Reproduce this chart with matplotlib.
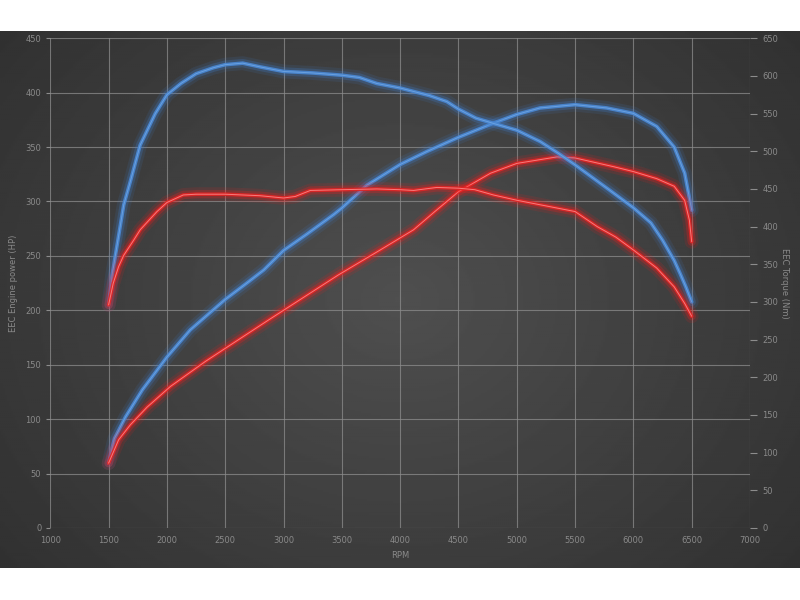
import numpy as np
import matplotlib
matplotlib.use("Agg")
import matplotlib.pyplot as plt

# tuned (blue) torque, Nm - right axis
rpm_tuned_tq = [1500, 1530, 1570, 1630, 1690, 1770, 1900, 2000, 2120, 2250, 2400, 2500, 2650, 2800,
                3000, 3250, 3500, 3650, 3800, 4000, 4250, 4400, 4500, 4650, 4800, 5000, 5200, 5350,
                5500, 5650, 5800, 6000, 6150, 6250, 6350, 6400, 6450, 6500]
tuned_tq = [296, 335, 373, 429, 462, 508, 550, 575, 590, 603, 611, 615, 617, 612,
            606, 604, 601, 598, 590, 584, 574, 566, 556, 544, 537, 528, 513, 498,
            482, 465, 448, 425, 405, 382, 355, 338, 320, 300]

# tuned (blue) power, HP - left axis
rpm_tuned_hp = [1500, 1550, 1645, 1790, 2000, 2200, 2500, 2685, 2830, 3000, 3200, 3430, 3500, 3715,
                4000, 4230, 4500, 4800, 5000, 5200, 5500, 5770, 6000, 6200, 6350, 6440, 6500]
tuned_hp = [59.5, 82, 102, 127, 157, 182, 210, 225, 237, 255, 270, 288, 294, 315,
            334, 346, 359, 372, 380, 386, 389, 386, 381, 369, 350, 326, 292]

# stock (red) torque, Nm - right axis
rpm_stock_tq = [1500, 1540, 1586, 1630, 1715, 1772, 1915, 2000, 2140, 2250, 2500, 2800, 3000, 3100,
                3230, 3500, 3800, 4000, 4115, 4315, 4500, 4640, 4800, 5000, 5200, 5500, 5690, 5850,
                6000, 6200, 6350, 6440, 6500]
stock_tq = [296, 325, 347, 362, 382, 396, 420, 432, 442, 443, 443, 441, 438, 440,
            448, 449, 450, 449, 448, 452, 451, 449, 442, 435, 429, 420, 400, 386,
            369, 345, 320, 298, 281]

# stock (red) power, HP - left axis
rpm_stock_hp = [1500, 1586, 1686, 1830, 2030, 2330, 2500, 2870, 3000, 3470, 3830, 4115, 4300, 4500,
                4775, 5000, 5345, 5500, 5830, 6000, 6200, 6350, 6440, 6480, 6500]
stock_hp = [59.5, 81, 94.7, 111, 130, 153, 165, 191, 200, 232.5, 255.5, 274, 291, 309,
            326, 335, 341, 340, 332, 327.5, 321, 314, 301, 283, 263]

fig = plt.figure(figsize=(8, 6), dpi=100, facecolor="white")

# dark radial background band
bg = fig.add_axes([0, 32 / 600, 1, 537 / 600])
yy, xx = np.mgrid[-1:1:300j, -1:1:400j]
r = np.sqrt(xx ** 2 + (yy * 0.8) ** 2)
bg.imshow(0.31 - 0.12 * np.clip(r / 1.3, 0, 1), cmap="gray", vmin=0, vmax=1,
          aspect="auto", extent=[0, 1, 0, 1])
bg.axis("off")

ax = fig.add_axes([50.3 / 800, 1 - 527.9 / 600, 699.7 / 800, 489.6 / 600])
ax.set_facecolor("none")
ax2 = ax.twinx()

gridcol = "#8c8c8c"
labcol = "#8a8a8a"
ax.set_xlim(1000, 7000)
ax.set_ylim(0, 450)
ax2.set_ylim(0, 650)
ax.set_xticks(np.arange(1000, 7001, 500))
ax.set_yticks(np.arange(0, 451, 50))
ax2.set_yticks(np.arange(0, 651, 50))
ax.grid(True, color=gridcol, lw=0.8, alpha=0.75)
for a in (ax, ax2):
    for s in a.spines.values():
        s.set_visible(False)
ax.tick_params(colors=gridcol, labelcolor=labcol, labelsize=6, length=3, width=0.8)
ax.tick_params(axis="x", length=0, pad=6)
ax2.tick_params(colors=gridcol, labelcolor=labcol, labelsize=6, length=5, width=0.8, pad=4)

ax.set_xlabel("RPM", color=labcol, fontsize=6, labelpad=4)
ax.set_ylabel("EEC Engine power (HP)", color=labcol, fontsize=6, va="center")
ax.yaxis.set_label_coords(-0.052, 0.5)
ax2.set_ylabel("EEC Torque (Nm)", color=labcol, fontsize=6, rotation=270, va="center")
ax2.yaxis.set_label_coords(1.05, 0.5)


def glow(a, x, y, base, mid, core):
    kw = dict(solid_capstyle="round", solid_joinstyle="round")
    a.plot(x, y, color=base, lw=10, alpha=0.12, **kw)
    a.plot(x, y, color=base, lw=6, alpha=0.25, **kw)
    a.plot(x, y, color=mid, lw=2.6, alpha=0.9, **kw)
    a.plot(x, y, color=core, lw=0.7, alpha=0.85, **kw)


glow(ax2, rpm_tuned_tq, tuned_tq, "#3f7fd0", "#4a88d4", "#6fa6e4")
glow(ax, rpm_tuned_hp, tuned_hp, "#3f7fd0", "#4a88d4", "#6fa6e4")
glow(ax2, rpm_stock_tq, stock_tq, "#ff1a1a", "#e02525", "#ff8a8a")
glow(ax, rpm_stock_hp, stock_hp, "#ff1a1a", "#e02525", "#ff8a8a")

fig.savefig("out.png", dpi=100, facecolor="white")
